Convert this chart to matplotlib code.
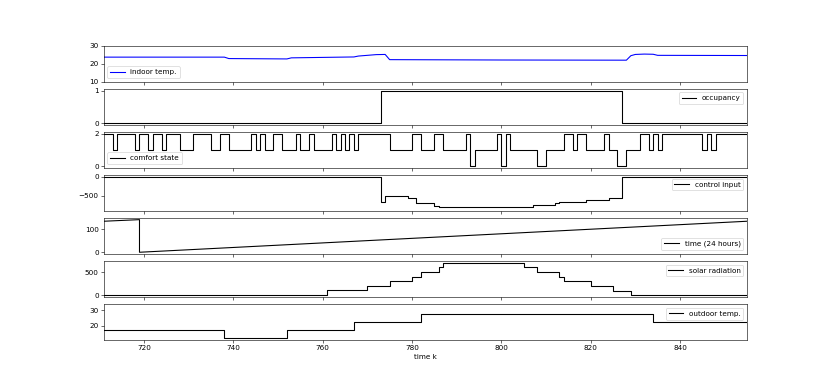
# %% 1. Libraries
# ----------------------------------------------------------------------------
import matplotlib
matplotlib.use('Agg')
import matplotlib.pyplot as plt

# %% 2. Data (time step k)
# ----------------------------------------------------------------------------
k_lim = [711, 855]

# indoor temperature (line)
indoor_k = [711, 738, 739, 752, 753, 767, 768, 772, 774, 775, 800, 828, 829,
            830, 832, 834, 835, 855]
indoor_v = [23.7, 23.7, 22.9, 22.7, 23.3, 23.8, 24.3, 25.1, 25.2, 22.3, 22.1,
            22.0, 24.5, 25.2, 25.4, 25.3, 24.7, 24.6]

# occupancy (change points, steps-post)
occ_k = [711, 773, 827, 855]
occ_v = [0, 1, 0, 0]

# comfort state (change points)
comfort_k = [711, 713, 714, 718, 719, 721, 722, 724, 725, 728, 731, 735, 737,
             739, 744, 745, 746, 747, 749, 751, 754, 755, 757, 758, 762, 763,
             764, 765, 766, 767, 768, 775, 780, 782, 785, 787, 792, 793, 794,
             799, 800, 801, 802, 808, 810, 814, 816, 817, 819, 823, 824, 826,
             828, 831, 833, 834, 835, 836, 845, 846, 847, 848, 855]
comfort_v = [2, 1, 2, 1, 2, 1, 2, 1, 2, 1, 2, 1, 2,
             1, 2, 1, 2, 1, 2, 1, 2, 1, 2, 1, 2, 1,
             2, 1, 2, 1, 2, 1, 2, 1, 2, 1, 2, 0, 1,
             2, 0, 2, 1, 0, 1, 2, 1, 2, 1, 2, 1, 0,
             1, 2, 1, 2, 1, 2, 1, 2, 1, 2, 2]

# control input (change points)
ctrl_k = [711, 773, 774, 779, 781, 785, 786, 804, 807, 812, 813, 819, 824,
          827, 855]
ctrl_v = [0, -675, -510, -570, -700, -765, -805, -800, -745, -700, -655,
          -615, -570, 0, 0]

# time of day in 10 min steps
time_k = [711, 719, 719, 855]
time_v = [136, 143, 0, 136]

# solar radiation (change points)
solar_k = [711, 761, 770, 775, 780, 782, 786, 787, 805, 808, 813, 814, 820,
           825, 829, 855]
solar_v = [0, 105, 200, 300, 400, 500, 600, 700, 600, 500, 400, 300, 200,
           100, 0, 0]

# outdoor temperature (change points)
out_k = [711, 738, 752, 767, 782, 834, 855]
out_v = [17.5, 12.5, 17.5, 22.5, 27.5, 22.5, 22.5]

# %% 3. Plot
# ----------------------------------------------------------------------------
fig, axs = plt.subplots(7, 1, sharex=True, figsize=(16, 7.364))

axs[0].plot(indoor_k, indoor_v, 'b', label='indoor temp.')
axs[0].set_ylim(10, 30)
axs[0].set_yticks([10, 20, 30])
axs[0].legend(loc='lower left')

axs[1].step(occ_k, occ_v, 'k', where='post', label='occupancy')
axs[1].set_yticks([0, 1])
axs[1].legend(loc='upper right')

axs[2].step(comfort_k, comfort_v, 'k', where='post', label='comfort state')
axs[2].set_yticks([0, 2])
axs[2].legend(loc='lower left')

axs[3].step(ctrl_k, ctrl_v, 'k', where='post', label='control input')
axs[3].set_ylim(-900, 45)
axs[3].set_yticks([-500, 0])
axs[3].legend(loc='upper right')

axs[4].plot(time_k, time_v, 'k', label='time (24 hours)')
axs[4].set_yticks([0, 100])
axs[4].legend(loc='lower right')

axs[5].step(solar_k, solar_v, 'k', where='post', label='solar radiation')
axs[5].set_yticks([0, 500])
axs[5].legend(loc='upper right')

axs[6].step(out_k, out_v, 'k', where='post', label='outdoor temp.')
axs[6].set_ylim(11, 34)
axs[6].set_yticks([20, 30])
axs[6].legend(loc='upper right')
axs[6].set_xlabel('time k')
axs[6].set_xlim(k_lim)

fig.savefig('out.png', dpi=51.875)
